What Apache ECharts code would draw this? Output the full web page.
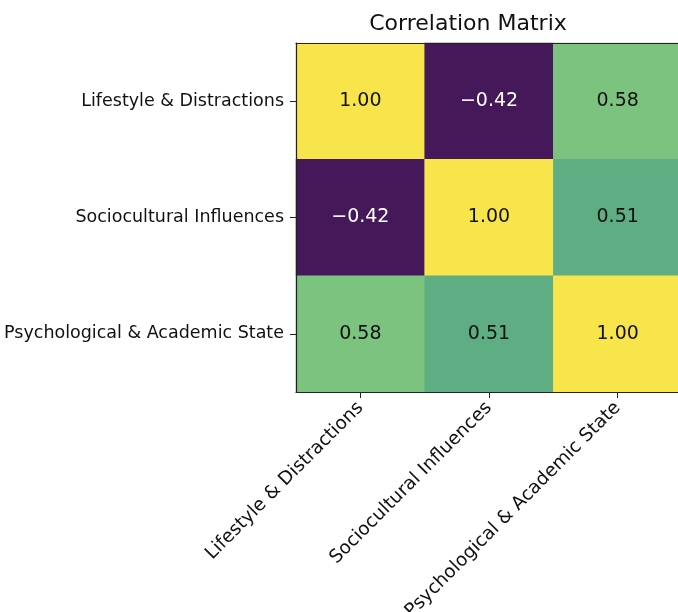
<!DOCTYPE html>
<html>
<head>
<meta charset="utf-8">
<script src="https://cdn.jsdelivr.net/npm/echarts@6/dist/echarts.min.js"></script>
<style>
html,body{margin:0;padding:0;background:#fff;}
#chart{width:678px;height:612px;}
</style>
</head>
<body>
<div id="chart"></div>
<script>
const categories = ["Lifestyle & Distractions", "Sociocultural Influences", "Psychological & Academic State"];
const rowLifestyle = [1.00, -0.42, 0.58];
const rowSociocultural = [-0.42, 1.00, 0.51];
const rowPsychological = [0.58, 0.51, 1.00];
const titleText = "Correlation Matrix";

const rows = [rowLifestyle, rowSociocultural, rowPsychological];
const data = [];
rows.forEach((row, y) => row.forEach((v, x) => data.push([x, y, v])));

const chart = echarts.init(document.getElementById('chart'), null, {renderer: 'canvas'});
const font = 'DejaVu Sans';
const lineCol = '#222';
chart.setOption({
  animation: false,
  backgroundColor: '#fff',
  title: {
    text: titleText,
    left: 463, top: 8, textAlign: 'center',
    textStyle: {fontFamily: font, fontSize: 22, fontWeight: 'normal', color: '#111'}
  },
  grid: {
    left: 296, top: 43, width: 386, height: 349,
    containLabel: false, outerBoundsMode: 'none'
  },
  xAxis: [{
    type: 'category', data: categories, position: 'bottom',
    axisLine: {show: true, onZero: false, lineStyle: {color: lineCol, width: 1.2}},
    axisTick: {show: true, alignWithLabel: true, length: 6, lineStyle: {color: lineCol}},
    axisLabel: {rotate: 45, margin: 13, fontFamily: font, fontSize: 18.5, color: '#111', interval: 0},
    splitLine: {show: false}, z: 10
  }, {
    type: 'category', data: categories, position: 'top',
    axisLine: {show: true, onZero: false, lineStyle: {color: lineCol, width: 1.2}},
    axisTick: {show: false}, axisLabel: {show: false}, splitLine: {show: false}, z: 10
  }],
  yAxis: [{
    type: 'category', data: categories, inverse: true, position: 'left',
    axisLine: {show: true, onZero: false, lineStyle: {color: lineCol, width: 1.2}},
    axisTick: {show: true, alignWithLabel: true, length: 6, lineStyle: {color: lineCol}},
    axisLabel: {margin: 12, fontFamily: font, fontSize: 17.5, color: '#111', interval: 0},
    splitLine: {show: false}, z: 10
  }, {
    type: 'category', data: categories, inverse: true, position: 'right',
    axisLine: {show: true, onZero: false, lineStyle: {color: lineCol, width: 1.2}},
    axisTick: {show: false}, axisLabel: {show: false}, splitLine: {show: false}, z: 10
  }],
  visualMap: {
    show: false, type: 'piecewise', dimension: 2,
    pieces: [
      {lt: 0, color: '#45185a'},
      {gte: 0, lt: 0.55, color: '#5fad83'},
      {gte: 0.55, lt: 0.8, color: '#7cc37f'},
      {gte: 0.8, color: '#f8e54b'}
    ]
  },
  series: [{
    type: 'heatmap',
    xAxisIndex: 0, yAxisIndex: 0,
    data: data.map(d => ({
      value: d,
      label: {color: d[2] < 0 ? '#fff' : '#111'}
    })),
    label: {
      show: true,
      fontFamily: font, fontSize: 19,
      formatter: p => (p.value[2] < 0 ? '\u2212' : '') + Math.abs(p.value[2]).toFixed(2)
    },
    itemStyle: {borderWidth: 0}
  }]
});
</script>
</body>
</html>
